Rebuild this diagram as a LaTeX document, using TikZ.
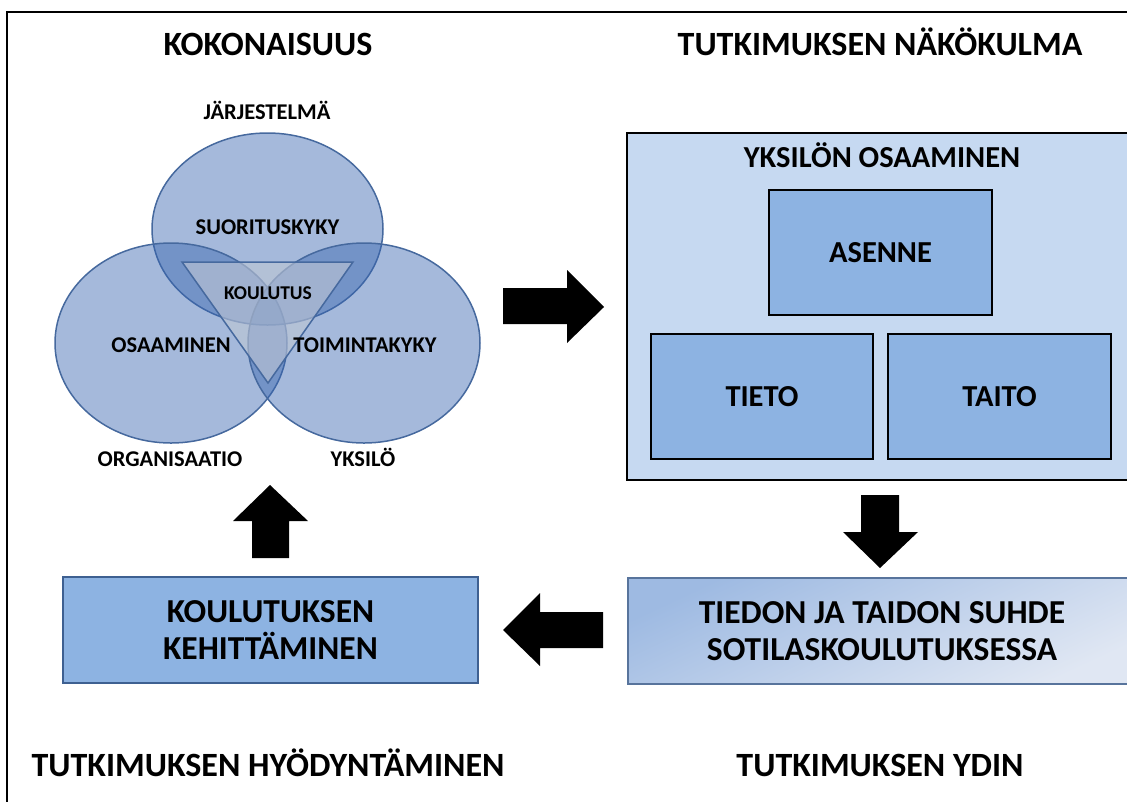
\documentclass[tikz,border=0pt]{standalone}
\usepackage{fontspec}
\setmainfont{Carlito}
\definecolor{frameblue}{RGB}{198,217,241}
\definecolor{cellblue}{RGB}{141,179,226}
\definecolor{vennfill}{RGB}{55,100,175}
\definecolor{vennline}{RGB}{70,105,158}
\definecolor{triafill}{RGB}{190,198,212}
\definecolor{boxline}{RGB}{62,96,145}
\definecolor{gradline}{RGB}{88,116,156}
\definecolor{graddark}{RGB}{158,186,226}
\definecolor{gradlight}{RGB}{224,231,243}
\begin{document}
\begin{tikzpicture}[x=1pt,y=-1pt,
  title/.style={font=\fontsize{34}{40}\selectfont\bfseries, inner sep=0pt, anchor=base},
  vennlabel/.style={font=\fontsize{22.5}{27}\selectfont\bfseries, inner sep=0pt, anchor=base},
  cell/.style={draw=black, line width=2.5pt, fill=cellblue, inner sep=0pt,
    font=\fontsize{30.5}{36}\selectfont\bfseries},
  twoline/.style={inner sep=0pt, align=center,
    font=\fontsize{33.5}{37}\selectfont\bfseries},
  venncircle/.style={fill=vennfill, fill opacity=0.45, draw=vennline, line width=1.5pt},
  blockarrow/.style={fill=black}]
\useasboundingbox (0,0) rectangle (1127,801);
\clip (0,0) rectangle (1127,801);

% outer frame (open to the right and bottom)
\draw[line width=2pt] (7,815) -- (7,12) -- (1140,12);

% headings
\node[title] (tKok) at (268,55) {KOKONAISUUS};
\node[title] (tNak) at (880,55) {TUTKIMUKSEN NÄKÖKULMA};
\node[title] (tHyo) at (268,776) {TUTKIMUKSEN HYÖDYNTÄMINEN};
\node[title] (tYdin) at (880,776) {TUTKIMUKSEN YDIN};

% Venn diagram of three ellipses
\draw[venncircle] (267.5,229) ellipse [x radius=115.5pt, y radius=96pt];
\draw[venncircle] (171,343) ellipse [x radius=116pt, y radius=100pt];
\draw[venncircle] (364,343) ellipse [x radius=116pt, y radius=100pt];

% central triangle
\coordinate (triA) at (182,262);
\coordinate (triB) at (353,262);
\coordinate (triC) at (268,383);
\draw[fill=triafill, fill opacity=0.6, draw=vennline, line width=1.5pt, line join=miter]
  (triA) -- (triB) -- (triC) -- cycle;

\node[vennlabel] (lJar) at (267,119) {JÄRJESTELMÄ};
\node[vennlabel] (lSuo) at (267.5,234) {SUORITUSKYKY};
\node[vennlabel, font=\fontsize{19.5}{24}\selectfont\bfseries] (lKou) at (268,299) {KOULUTUS};
\node[vennlabel] (lOsa) at (171,352) {OSAAMINEN};
\node[vennlabel] (lToi) at (365,352) {TOIMINTAKYKY};
\node[vennlabel] (lOrg) at (170,466) {ORGANISAATIO};
\node[vennlabel] (lYks) at (363,466) {YKSILÖ};

% individual competence box
\node[draw=black, line width=2.5pt, fill=frameblue, minimum width=510pt,
  minimum height=347pt, inner sep=0pt] (yks) at (882,306.5) {};
\node[inner sep=0pt, anchor=base, font=\fontsize{30.5}{36}\selectfont\bfseries]
  (yksT) at (882,167) {YKSILÖN OSAAMINEN};
\node[cell, minimum width=223pt, minimum height=125pt] (asenne) at (880.5,252.5) {ASENNE};
\node[cell, minimum width=222pt, minimum height=125pt] (tieto) at (762,396.5) {TIETO};
\node[cell, minimum width=223pt, minimum height=125pt] (taito) at (999.5,396.5) {TAITO};

% core of the study
\node[draw=gradline, line width=2pt, left color=graddark, right color=gradlight,
  shading angle=25, minimum width=508pt, minimum height=106pt, twoline]
  (ydin) at (882,631) {TIEDON JA TAIDON SUHDE\\SOTILASKOULUTUKSESSA};

% development of training
\node[draw=boxline, line width=2.5pt, fill=cellblue, minimum width=415pt,
  minimum height=106pt, twoline]
  (kehit) at (270.5,630) {KOULUTUKSEN\\KEHITTÄMINEN};

% block arrows of the cycle
\fill[blockarrow] (503,288) -- (567,288) -- (567,270) -- (604,307) -- (567,343)
  -- (567,324) -- (503,324) -- cycle;
\fill[blockarrow] (861,495) -- (899,495) -- (899,532) -- (918,532) -- (880,568)
  -- (843,532) -- (861,532) -- cycle;
\fill[blockarrow] (603,612) -- (540,612) -- (540,593) -- (503,630) -- (540,666)
  -- (540,648) -- (603,648) -- cycle;
\fill[blockarrow] (252,558) -- (252,521) -- (233,521) -- (270,485) -- (308,521)
  -- (289,521) -- (289,558) -- cycle;
\end{tikzpicture}
\end{document}
